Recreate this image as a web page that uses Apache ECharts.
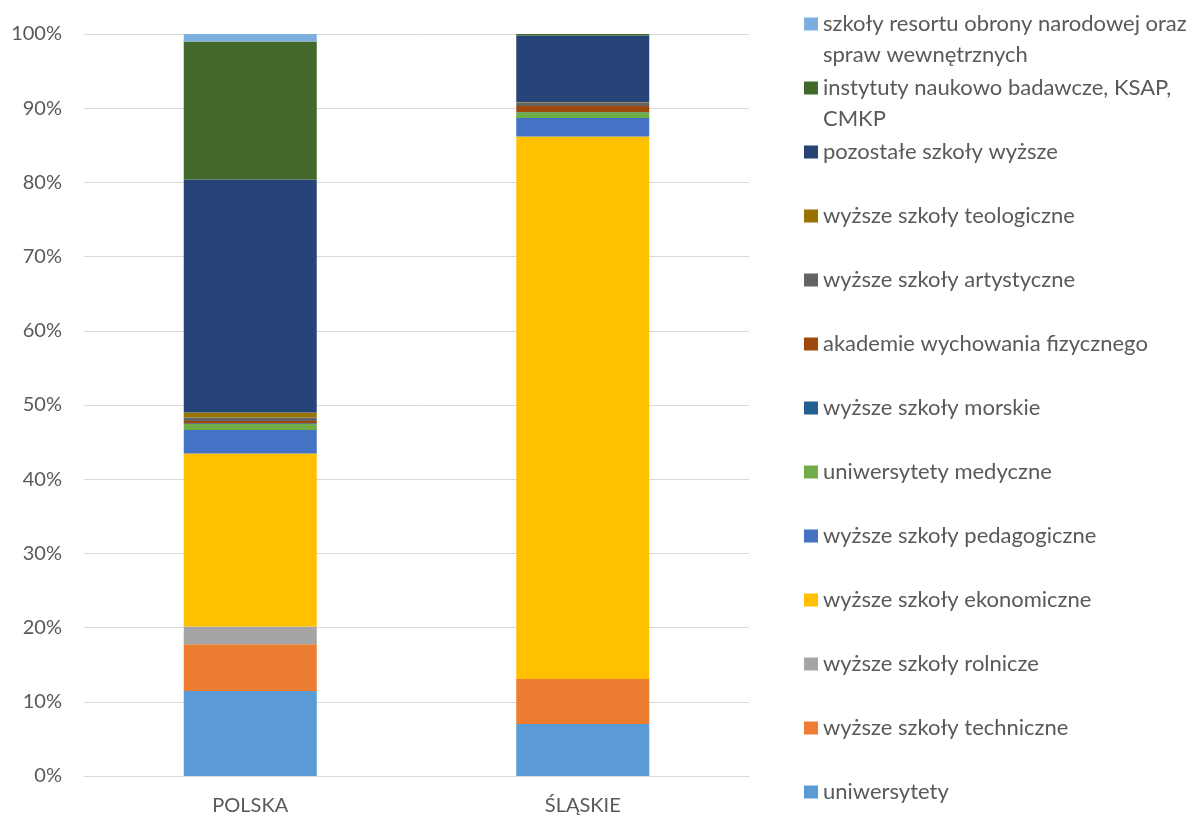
<!DOCTYPE html>
<html>
<head>
<meta charset="utf-8">
<style>
  html, body { margin: 0; padding: 0; background: #fff; }
  #chart { width: 1194px; height: 817px; }
</style>
<script src="https://cdn.jsdelivr.net/npm/echarts@6/dist/echarts.min.js"></script>
</head>
<body>
<div id="chart"></div>
<script>
// kategorie (regiony)
const regions = ["POLSKA", "ŚLĄSKIE"];

// udziały w % (od dołu słupka)
const uniwersytety = [11.46, 7.0];
const techniczne = [6.3, 6.07];
const rolnicze = [2.4, 0];
const ekonomiczne = [23.3, 73.1];
const pedagogiczne = [3.18, 2.5];
const medyczne = [0.81, 0.77];
const morskie = [0.1, 0.05];
const akademieWF = [0.3, 0.81];
const artystyczne = [0.45, 0.45];
const teologiczne = [0.7, 0.05];
const pozostale = [31.4, 9.0];
const instytuty = [18.6, 0.2];
const resortowe = [1.0, 0];

const yTicks = [0, 10, 20, 30, 40, 50, 60, 70, 80, 90, 100];

const seriesList = [
  { name: "uniwersytety", data: uniwersytety, color: "#5B9BD5" },
  { name: "wyższe szkoły techniczne", data: techniczne, color: "#ED7D31" },
  { name: "wyższe szkoły rolnicze", data: rolnicze, color: "#A5A5A5" },
  { name: "wyższe szkoły ekonomiczne", data: ekonomiczne, color: "#FFC000" },
  { name: "wyższe szkoły pedagogiczne", data: pedagogiczne, color: "#4472C4" },
  { name: "uniwersytety medyczne", data: medyczne, color: "#70AD47" },
  { name: "wyższe szkoły morskie", data: morskie, color: "#255E91" },
  { name: "akademie wychowania fizycznego", data: akademieWF, color: "#9E480E" },
  { name: "wyższe szkoły artystyczne", data: artystyczne, color: "#636363" },
  { name: "wyższe szkoły teologiczne", data: teologiczne, color: "#997300" },
  { name: "pozostałe szkoły wyższe", data: pozostale, color: "#264478" },
  { name: "instytuty naukowo badawcze, KSAP, CMKP", data: instytuty, color: "#43682B" },
  { name: "szkoły resortu obrony narodowej oraz spraw wewnętrznych", data: resortowe, color: "#7CAFDD" }
];

// zawijanie długich nazw w legendzie (pusta linia na górze, żeby pierwsza linia była na wysokości znacznika)
const wrapped = {
  "szkoły resortu obrony narodowej oraz spraw wewnętrznych": "\nszkoły resortu obrony narodowej oraz\nspraw wewnętrznych",
  "instytuty naukowo badawcze, KSAP, CMKP": "\ninstytuty naukowo badawcze, KSAP,\nCMKP"
};

const font = "Lato, 'Open Sans', sans-serif";
const textColor = "#595959";
const lineH = 31;

// legenda: jedna pozycja na komponent, od góry w odwrotnej kolejności
const legends = seriesList.slice().reverse().map(function (s, i) {
  const center = 24 + 64 * i;
  const twoLines = !!wrapped[s.name];
  return {
    data: [s.name],
    orient: "vertical",
    left: 804,
    top: twoLines ? center - lineH * 1.5 : center - lineH / 2,
    padding: 0,
    icon: "rect",
    itemWidth: 14,
    itemHeight: 13,
    selectedMode: false,
    formatter: function (name) { return wrapped[name] || name; },
    textStyle: {
      fontFamily: font,
      fontSize: 22,
      color: textColor,
      lineHeight: lineH
    }
  };
});

const chart = echarts.init(document.getElementById("chart"));

chart.setOption({
  animation: false,
  textStyle: { fontFamily: font },
  legend: legends,
  grid: {
    left: 84,
    right: 445,
    top: 34,
    bottom: 41
  },
  xAxis: {
    type: "category",
    data: regions,
    axisTick: { show: false },
    axisLine: { lineStyle: { color: "#D9D9D9", width: 1 } },
    axisLabel: {
      color: textColor,
      fontSize: 20,
      fontFamily: font,
      margin: 20
    }
  },
  yAxis: {
    type: "value",
    min: yTicks[0],
    max: yTicks[yTicks.length - 1],
    interval: 10,
    axisLine: { show: false },
    axisTick: { show: false },
    splitLine: { lineStyle: { color: "#D9D9D9", width: 1 } },
    axisLabel: {
      formatter: "{value}%",
      color: textColor,
      fontSize: 20,
      fontFamily: font,
      margin: 22
    }
  },
  series: seriesList.map(function (s) {
    return {
      name: s.name,
      type: "bar",
      stack: "total",
      barWidth: "40%",
      data: s.data,
      itemStyle: { color: s.color }
    };
  })
});
</script>
</body>
</html>
